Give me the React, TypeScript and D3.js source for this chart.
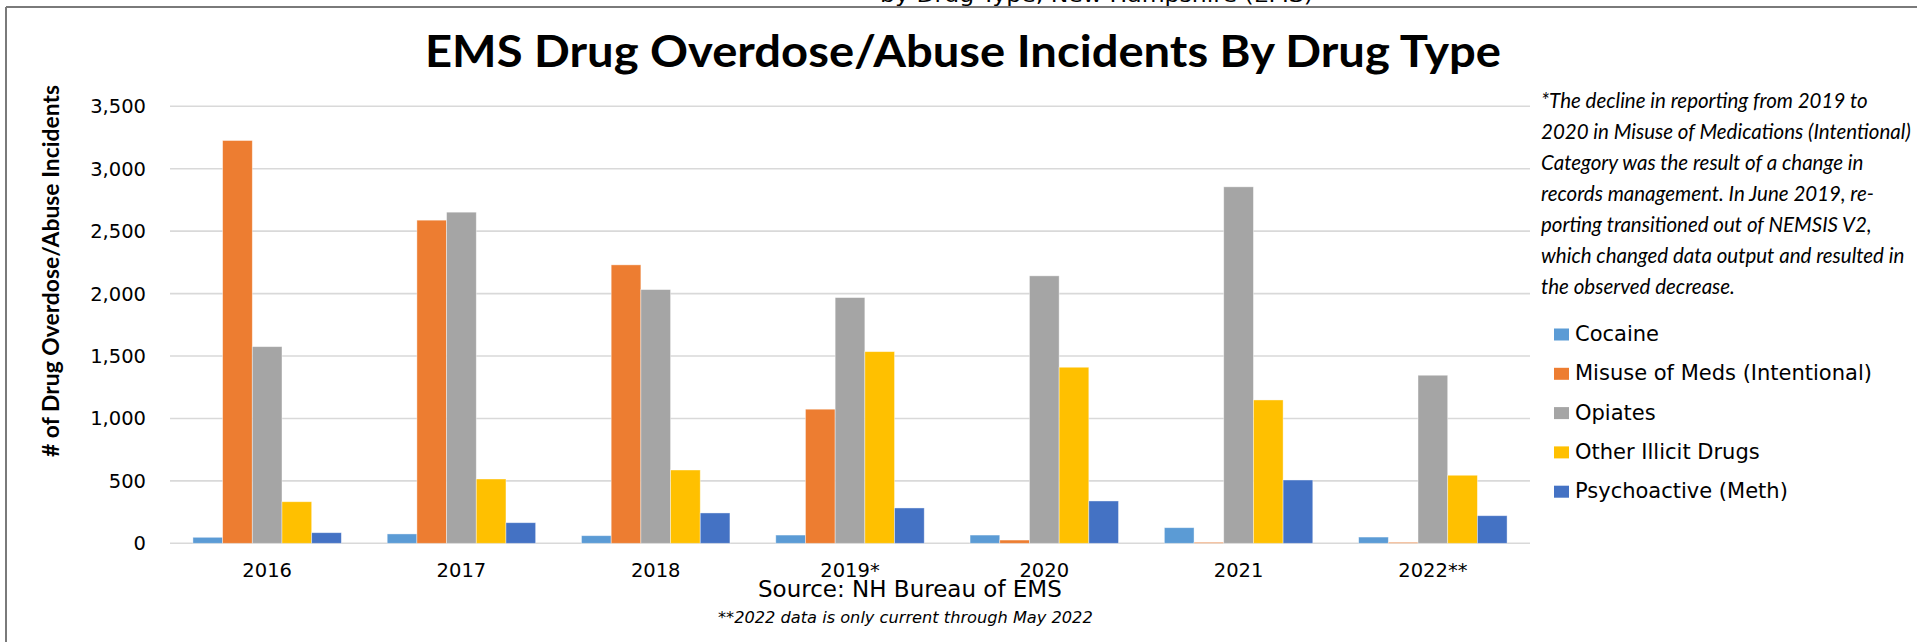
import React from "react";
import * as d3 from "d3";

const years = ["2016", "2017", "2018", "2019*", "2020", "2021", "2022**"];
const seriesNames = ["Cocaine", "Misuse of Meds (Intentional)", "Opiates", "Other Illicit Drugs", "Psychoactive (Meth)"];
const seriesColors = ["#5B9BD5", "#ED7D31", "#A5A5A5", "#FFC000", "#4472C4"];
const cocaine = [48, 75, 61, 66, 66, 125, 50];
const misuseMeds = [3226, 2588, 2230, 1074, 26, 8, 8];
const opiates = [1575, 2652, 2032, 1968, 2142, 2855, 1346];
const otherIllicit = [333, 515, 587, 1535, 1410, 1148, 545];
const psychoactive = [85, 165, 243, 283, 339, 507, 221];
const yTicks = [0, 500, 1000, 1500, 2000, 2500, 3000, 3500];
const noteLines = [
  "*The decline in reporting from 2019 to",
  "2020 in Misuse of Medications (Intentional)",
  "Category was the result of a change in",
  "records management. In June 2019, re-",
  "porting transitioned out of NEMSIS V2,",
  "which changed data output and resulted in",
  "the observed decrease.",
];
const titleText = "EMS Drug Overdose/Abuse Incidents By Drug Type";
const yAxisTitle = "# of Drug Overdose/Abuse Incidents";
const sourceText = "Source: NH Bureau of EMS";
const footnoteText = "**2022 data is only current through May 2022";
const topCutText = "by Drug Type, New Hampshire (EMS)";

const allSeries = [cocaine, misuseMeds, opiates, otherIllicit, psychoactive];

export default function App() {
  const W = 1917, H = 642;
  const x = d3.scaleBand<string>().domain(years).range([170, 1530]).paddingInner(0.236).paddingOuter(0.118);
  const xi = d3.scaleBand<string>().domain(seriesNames).range([0, x.bandwidth()]).padding(0);
  const y = d3.scaleLinear().domain([0, 3500]).range([543.3, 106.3]);
  const tickFmt = d3.format(",");
  const sans = "'DejaVu Sans', Verdana, sans-serif";
  const lato = "Lato, 'Open Sans', sans-serif";

  return (
    <svg width={W} height={H} style={{ position: "absolute", left: 0, top: 0, display: "block", background: "#fff" }}>
      <rect x={0} y={0} width={W} height={H} fill="#fff" />
      <text x={880} y={2} fontFamily={sans} fontSize={20} fill="#000" textLength={433} lengthAdjust="spacingAndGlyphs">{topCutText}</text>
      <line x1={6} y1={7} x2={W} y2={7} stroke="#7a7a7a" strokeWidth={2} />
      <line x1={6} y1={7} x2={6} y2={H} stroke="#7a7a7a" strokeWidth={2} />

      <text x={963} y={67} textAnchor="middle" fontFamily={lato} fontWeight={700} fontSize={44}
        textLength={1076} lengthAdjust="spacingAndGlyphs" fill="#000">{titleText}</text>

      {yTicks.map((t) => (
        <g key={t}>
          <line x1={170} x2={1530} y1={y(t)} y2={y(t)} stroke="#D9D9D9" strokeWidth={1.6} />
          <text x={146} y={y(t)} dy="0.36em" textAnchor="end" fontFamily={sans} fontSize={19.5} fill="#000">{tickFmt(t)}</text>
        </g>
      ))}

      {years.map((yr, i) => (
        <g key={yr} transform={`translate(${x(yr)},0)`}>
          {allSeries.map((s, j) => (
            <rect key={j} x={xi(seriesNames[j])} y={y(s[i])} width={xi.bandwidth()} height={y(0) - y(s[i])}
              fill={seriesColors[j]} stroke="#fff" strokeOpacity={0.5} strokeWidth={0.8} />
          ))}
          <text x={x.bandwidth() / 2} y={y(0) + 34} textAnchor="middle" fontFamily={sans} fontSize={19.5} fill="#000">{yr}</text>
        </g>
      ))}

      <text transform={`translate(59,271) rotate(-90)`} textAnchor="middle" fontFamily={lato} fontWeight={700} fontSize={23}
        textLength={372} lengthAdjust="spacingAndGlyphs" fill="#000">{yAxisTitle}</text>

      {noteLines.map((l, i) => (
        <text key={i} x={1541} y={108.3 + i * 30.9} fontFamily={lato} fontStyle="italic" fontSize={20.5} fill="#000">{l}</text>
      ))}

      {seriesNames.map((n, i) => (
        <g key={n}>
          <rect x={1554} y={341 + i * 39.3 - 12.5} width={15} height={12} fill={seriesColors[i]} />
          <text x={1575} y={341 + i * 39.3} fontFamily={sans} fontSize={21} fill="#000">{n}</text>
        </g>
      ))}

      <text x={758} y={597} fontFamily={sans} fontSize={23} fill="#000">{sourceText}</text>
      <text x={718} y={623} fontFamily={sans} fontStyle="italic" fontSize={16.2} fill="#000">{footnoteText}</text>
    </svg>
  );
}
